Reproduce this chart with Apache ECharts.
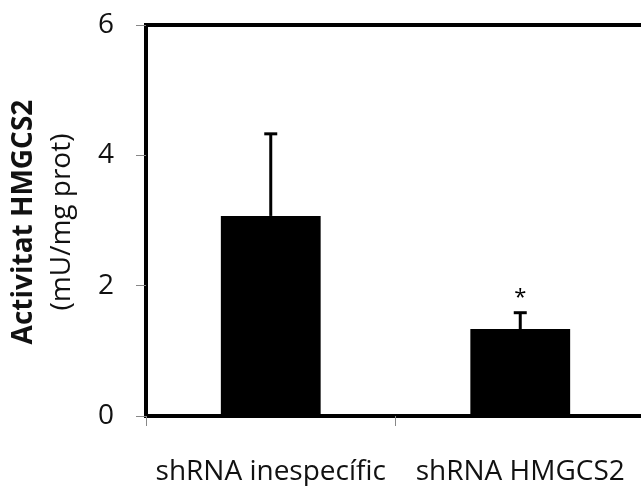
<!DOCTYPE html>
<html><head><meta charset="utf-8">
<script src="https://cdn.jsdelivr.net/npm/echarts@6/dist/echarts.min.js"></script>
<style>html,body{margin:0;padding:0;background:#fff}#c{width:641px;height:486px}</style>
</head><body><div id="c"></div>
<script>
const categories = ['shRNA inespecífic', 'shRNA HMGCS2'];
const means = [3.07, 1.335];
const errors = [1.26, 0.25];
const significance = ['', '*'];
const yTicks = [0, 2, 4, 6];

const chart = echarts.init(document.getElementById('c'));
const FONT = 'Open Sans';
chart.setOption({
  animation: false,
  grid: {left: 146, top: 25, bottom: 70, width: 499, outerBoundsMode: 'none', containLabel: false, show: true, borderColor: '#000', borderWidth: 4, backgroundColor: 'transparent'},
  xAxis: {
    type: 'category', data: categories,
    axisLine: {show: false},
    axisTick: {show: true, length: 10, lineStyle: {color: '#888', width: 1}},
    axisLabel: {fontFamily: FONT, fontSize: 28, color: '#111', margin: 42, interval: 0}
  },
  yAxis: {
    type: 'value', min: 0, max: 6, interval: 2,
    splitLine: {show: false},
    axisLine: {show: false},
    axisTick: {show: true, length: 10, lineStyle: {color: '#888', width: 1}},
    axisLabel: {fontFamily: FONT, fontSize: 28, color: '#111', margin: 32,
      formatter: function (v) { return yTicks.indexOf(v) >= 0 ? String(v) : ''; }}
  },
  graphic: [
    {type: 'text', x: 24, y: 222, rotation: Math.PI / 2, style: {text: 'Activitat HMGCS2', font: 'bold 28px "Open Sans"', fill: '#111', align: 'center', verticalAlign: 'middle'}},
    {type: 'text', x: 62, y: 222, rotation: Math.PI / 2, style: {text: '(mU/mg prot)', font: '28px "Open Sans"', fill: '#111', align: 'center', verticalAlign: 'middle'}}
  ],
  series: [
    {type: 'bar', data: means, barWidth: '40%', itemStyle: {color: '#000'}, z: 2},
    {
      type: 'custom', z: 3,
      data: means.map((m, i) => [i, m, errors[i]]),
      renderItem: function (params, api) {
        const i = api.value(0), m = api.value(1), e = api.value(2);
        const base = api.coord([i, m]);
        const top = api.coord([i, m + e]);
        const cap = 6.5;
        const children = [
          {type: 'line', shape: {x1: base[0], y1: base[1], x2: top[0], y2: top[1]}, style: {stroke: '#000', lineWidth: 3}},
          {type: 'line', shape: {x1: top[0] - cap, y1: top[1], x2: top[0] + cap, y2: top[1]}, style: {stroke: '#000', lineWidth: 3}}
        ];
        const s = significance[i];
        if (s) {
          children.push({type: 'text', x: top[0], y: top[1] - 15, style: {text: s, font: '22px "Open Sans"', fill: '#000', align: 'center', verticalAlign: 'middle'}});
        }
        return {type: 'group', children: children};
      }
    }
  ]
});
</script></body></html>
